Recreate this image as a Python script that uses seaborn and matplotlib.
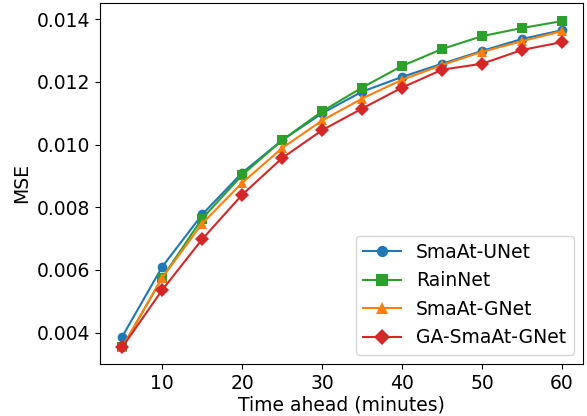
import matplotlib
matplotlib.use("Agg")
import matplotlib.pyplot as plt
import pandas as pd
import seaborn as sns

# minutes ahead
minutes = [5, 10, 15, 20, 25, 30, 35, 40, 45, 50, 55, 60]

# MSE per model
smaat_unet = [0.00387, 0.00610, 0.00777, 0.00910, 0.01014, 0.01100, 0.01169, 0.01216, 0.01258, 0.01299, 0.01337, 0.01365]
rainnet = [0.00353, 0.00575, 0.00764, 0.00903, 0.01014, 0.01106, 0.01182, 0.01251, 0.01305, 0.01346, 0.01372, 0.01394]
smaat_gnet = [0.00353, 0.00575, 0.00748, 0.00878, 0.00989, 0.01077, 0.01147, 0.01207, 0.01254, 0.01296, 0.01330, 0.01362]
ga_smaat_gnet = [0.00353, 0.00536, 0.00698, 0.00840, 0.00957, 0.01046, 0.01115, 0.01182, 0.01239, 0.01258, 0.01302, 0.01327]

models = ["SmaAt-UNet", "RainNet", "SmaAt-GNet", "GA-SmaAt-GNet"]
series = [smaat_unet, rainnet, smaat_gnet, ga_smaat_gnet]
colors = ["#1f77b4", "#2ca02c", "#ff7f0e", "#d62728"]
markers = ["o", "s", "^", "D"]

df = pd.concat(
    [pd.DataFrame({"minutes": minutes, "mse": vals, "model": name})
     for name, vals in zip(models, series)],
    ignore_index=True,
)

plt.rcParams["font.size"] = 13.5

fig = plt.figure(figsize=(5.87, 4.16), dpi=100)
ax = fig.add_axes([0.170, 0.125, 0.823, 0.868])

sns.lineplot(data=df, x="minutes", y="mse", hue="model", style="model",
             hue_order=models, style_order=models,
             palette=dict(zip(models, colors)),
             markers=dict(zip(models, markers)), dashes=False,
             markersize=7, markeredgewidth=0, linewidth=1.5, ax=ax)

ax.set_xlabel("Time ahead (minutes)", labelpad=2)
ax.set_ylabel("MSE")
ax.set_xticks([10, 20, 30, 40, 50, 60])
ax.set_yticks([0.004, 0.006, 0.008, 0.010, 0.012, 0.014])
ax.set_yticklabels([f"{v:.3f}" for v in [0.004, 0.006, 0.008, 0.010, 0.012, 0.014]])
ax.set_xlim(2.2, 62.6)
ax.set_ylim(0.0030, 0.01452)
ax.legend(loc="lower right", fontsize=13.5, markerscale=1.15)

fig.savefig("out.png", dpi=100)
